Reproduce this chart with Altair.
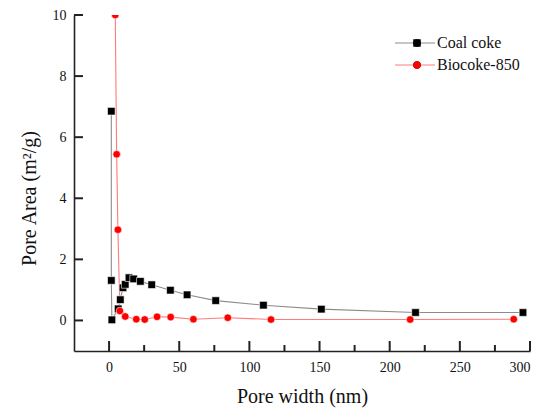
import altair as alt
import pandas as pd

series_names = ["Coal coke", "Biocoke-850"]

coal_x = [1.6, 1.6, 2.0, 6.5, 8.0, 9.9, 11.5, 14.2, 17.5, 22.3, 30.4, 43.7, 55.6, 76.0, 110.0, 151.3, 218.4, 295.0]
coal_y = [6.85, 1.31, 0.02, 0.38, 0.68, 1.07, 1.18, 1.40, 1.36, 1.28, 1.17, 0.99, 0.84, 0.65, 0.50, 0.37, 0.26, 0.26]

bio_x = [4.4, 5.4, 6.3, 7.7, 11.5, 19.4, 25.4, 34.2, 43.9, 60.1, 84.6, 115.4, 214.6, 288.4]
bio_y = [10.0, 5.44, 2.97, 0.31, 0.13, 0.04, 0.03, 0.12, 0.11, 0.04, 0.09, 0.03, 0.03, 0.04]

x_major = [0, 50, 100, 150, 200, 250, 300]
x_minor = [25, 75, 125, 175, 225, 275]
y_major = [0, 2, 4, 6, 8, 10]

rows = []
for i, (xv, yv) in enumerate(zip(coal_x, coal_y)):
    rows.append({"series": series_names[0], "label": series_names[0], "x": xv, "y": yv, "idx": i})
for i, (xv, yv) in enumerate(zip(bio_x, bio_y)):
    rows.append({"series": series_names[1], "label": series_names[1], "x": xv, "y": yv, "idx": i})
df = pd.DataFrame(rows)

FONT = "Liberation Serif"
AX = "#222222"
W, H = 456, 336

xscale = alt.Scale(domain=[-25, 300], nice=False, zero=False)
yscale = alt.Scale(domain=[-1, 10], nice=False, zero=False)

x_main = alt.Axis(orient="bottom", values=x_major, ticks=False, domain=True, domainColor=AX,
                  domainWidth=1.6, grid=False, labelFont=FONT, labelFontSize=14, labelColor="#111111",
                  labelPadding=9, title="Pore width (nm)", titleFont=FONT, titleFontSize=20,
                  titleFontWeight="normal", titleColor="#111111", titlePadding=12)
y_main = alt.Axis(orient="left", values=y_major, ticks=False, domain=True, domainColor=AX,
                  domainWidth=1.6, grid=False, labelFont=FONT, labelFontSize=14, labelColor="#111111",
                  labelPadding=8, title="Pore Area (m²/g)", titleFont=FONT, titleFontSize=20,
                  titleFontWeight="normal", titleColor="#111111", titlePadding=13, titleY=183)

line_legend = alt.Legend(orient="none", legendX=333, legendY=20, title=None,
                         symbolType="M-3.333,0H3.333", symbolSize=144, symbolStrokeWidth=1.2,
                         labelOffset=14, labelFont=FONT, labelFontSize=16, labelColor="#111111",
                         rowPadding=6)
point_legend = alt.Legend(orient="none", legendX=335, legendY=20, title=None,
                          symbolSize=56, symbolStrokeWidth=0, labelExpr="''", labelFont=FONT,
                          labelFontSize=16, rowPadding=6)

base = alt.Chart(df)

lines = base.mark_line(strokeWidth=1.1, clip=True).encode(
    x=alt.X("x:Q", scale=xscale, axis=x_main),
    y=alt.Y("y:Q", scale=yscale, axis=y_main),
    stroke=alt.Stroke("series:N", sort=series_names,
                      scale=alt.Scale(range=["#8c8c8c", "#ff7a7a"]), legend=line_legend),
    order=alt.Order("idx:Q"),
)

points = base.mark_point(filled=True, opacity=1, size=58, stroke="white", strokeWidth=0.6, clip=True).encode(
    x=alt.X("x:Q", scale=xscale),
    y=alt.Y("y:Q", scale=yscale),
    fill=alt.Fill("label:N", sort=series_names,
                  scale=alt.Scale(range=["#000000", "#ff0000"]), legend=point_legend),
    shape=alt.Shape("label:N", sort=series_names,
                    scale=alt.Scale(range=["square", "circle"]), legend=point_legend),
)

tick_x = pd.DataFrame({"t": x_major})
tick_xm = pd.DataFrame({"t": x_minor})
tick_y = pd.DataFrame({"t": y_major})

# inward axis ticks, placed at the tick values through the same scales
xt_major = alt.Chart(tick_x).mark_tick(color=AX, opacity=1, thickness=2, size=10, orient="vertical").encode(
    x=alt.X("t:Q", scale=xscale), y=alt.value(H - 5))
xt_minor = alt.Chart(tick_xm).mark_tick(color=AX, opacity=1, thickness=2, size=6, orient="vertical").encode(
    x=alt.X("t:Q", scale=xscale), y=alt.value(H - 3))
yt_major = alt.Chart(tick_y).mark_tick(color=AX, opacity=1, thickness=2, size=9, orient="horizontal").encode(
    y=alt.Y("t:Q", scale=yscale), x=alt.value(4.5))

chart = alt.layer(lines, points, xt_major, xt_minor, yt_major).properties(
    width=W, height=H,
    autosize=alt.AutoSizeParams(type="none"),
    padding={"left": 66, "top": 7, "right": 12, "bottom": 57},
    background="white",
).configure_view(strokeWidth=0).configure_axis(
    labelFont=FONT, titleFont=FONT
).configure_legend(labelFont=FONT)

chart.save("out.html", embed_options={"renderer": "svg", "actions": False})
